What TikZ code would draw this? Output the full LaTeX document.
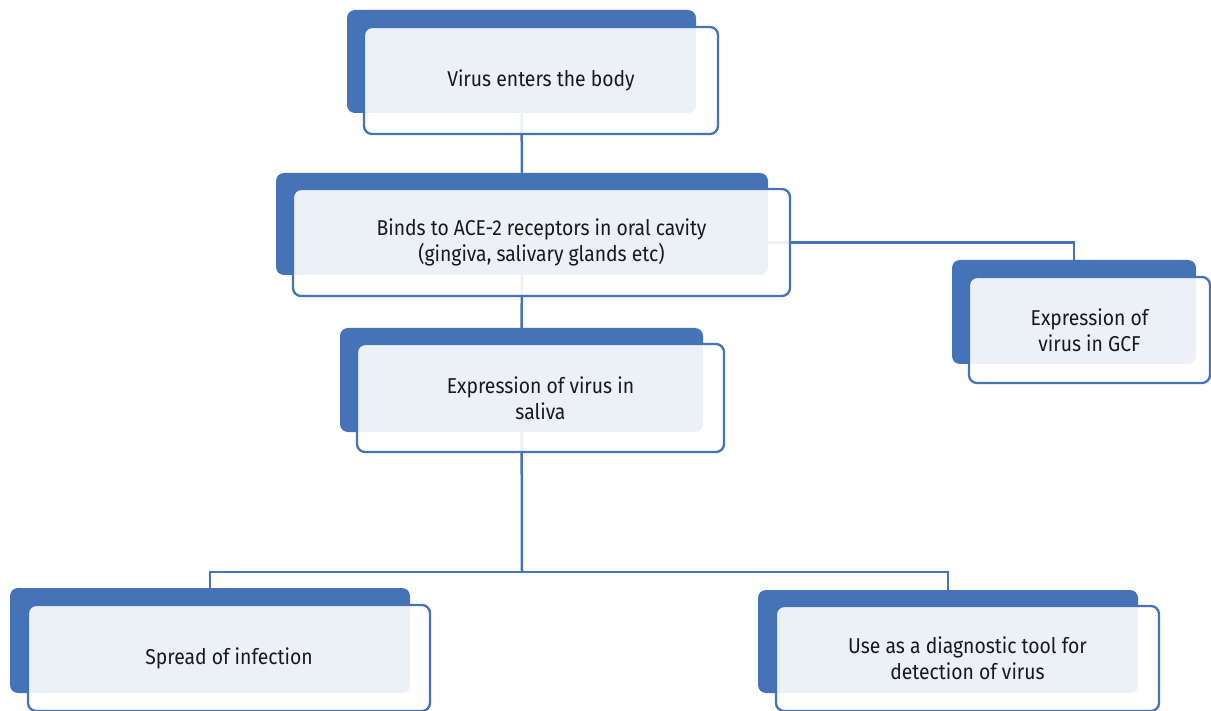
\documentclass[tikz,border=0pt]{standalone}
\usepackage{fontspec}
\setmainfont[FakeStretch=0.9]{Fira Sans}
\definecolor{scuro}{RGB}{70,114,184}
\definecolor{testo}{RGB}{25,25,25}
\pgfdeclarelayer{back}
\pgfdeclarelayer{mid}
\pgfsetlayers{back,mid,main}
\tikzset{
	dark/.style={fill=scuro, rounded corners=8pt, inner sep=0pt},
	box/.style={draw=scuro, line width=2.3pt, rounded corners=8pt, fill=white, fill opacity=0.9, text opacity=1, text=testo, align=center, font=\fontsize{21.5}{26}\selectfont, inner sep=0pt},
	link/.style={draw=scuro, line width=2.5pt}
}
\begin{document}
\begin{tikzpicture}[x=1pt,y=-1pt]
	\useasboundingbox (0,0) rectangle (1211,711);
	% retro
	\begin{pgfonlayer}{back}
	\node[dark, minimum width=349pt, minimum height=103pt] (virus-back) at (521.5,61.5) {};
	\node[dark, minimum width=492pt, minimum height=102pt] (binds-back) at (522,224) {};
	\node[dark, minimum width=244pt, minimum height=104pt] (gcf-back) at (1074,312) {};
	\node[dark, minimum width=363pt, minimum height=104pt] (saliva-back) at (521.5,380) {};
	\node[dark, minimum width=400pt, minimum height=105pt] (spread-back) at (210,640.5) {};
	\node[dark, minimum width=380pt, minimum height=103pt] (tool-back) at (948,641.5) {};
	\end{pgfonlayer}
	% caselle
	\node[box, minimum width=354pt, minimum height=107pt] (virus) at (541,80.5) {Virus enters the body};
	\node[box, minimum width=497pt, minimum height=107pt] (binds) at (541.5,242.5) {Binds to ACE-2 receptors in oral cavity\\(gingiva, salivary glands etc)};
	\node[box, minimum width=241pt, minimum height=106pt] (gcf) at (1089.5,330) {Expression of\\virus in GCF};
	\node[box, minimum width=367pt, minimum height=108pt] (saliva) at (540.5,398) {Expression of virus in\\saliva};
	\node[box, minimum width=402pt, minimum height=106pt] (spread) at (229,658) {Spread of infection};
	\node[box, minimum width=383pt, minimum height=105pt] (tool) at (967.5,658.5) {Use as a diagnostic tool for\\detection of virus};
	% collegamenti
	\begin{pgfonlayer}{mid}
	\coordinate (bus) at (522,572);
	\draw[link] (virus-back) -- (binds-back);
	\draw[link] (binds-back) -- (saliva-back);
	\draw[link] (binds-back.center |- binds.center) -| (gcf-back.north);
	\draw[link] (saliva-back) -- (bus);
	\draw[link] (spread-back.north) |- (bus) -| (tool-back.north);
	\end{pgfonlayer}
\end{tikzpicture}
\end{document}
